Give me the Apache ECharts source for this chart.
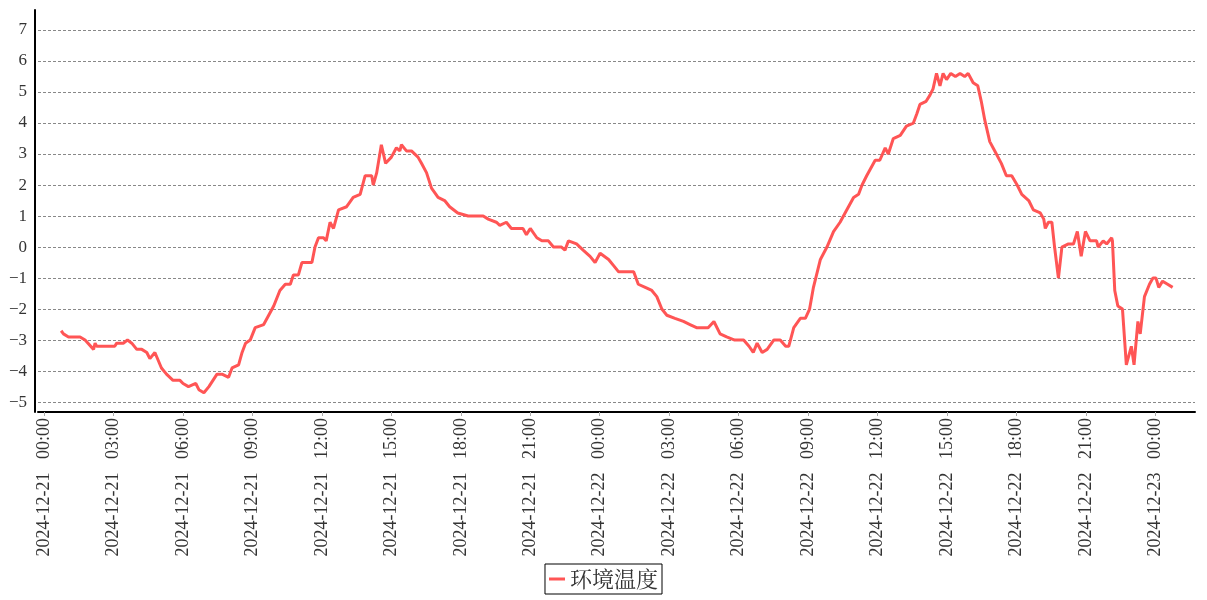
<!DOCTYPE html>
<html><head><meta charset="utf-8">
<script src="https://cdn.jsdelivr.net/npm/echarts@6/dist/echarts.min.js"></script>
<style>html,body{margin:0;padding:0;background:#fff}#c{width:1207px;height:600px}</style>
</head><body><div id="c"></div>
<script>
const seriesName = '环境温度';
const times = [
'2024-12-21 00:44','2024-12-21 00:50','2024-12-21 01:03','2024-12-21 01:33','2024-12-21 01:46','2024-12-21 02:08','2024-12-21 02:12','2024-12-21 02:16',
'2024-12-21 03:03','2024-12-21 03:08','2024-12-21 03:25','2024-12-21 03:36','2024-12-21 03:47','2024-12-21 04:00','2024-12-21 04:13','2024-12-21 04:26',
'2024-12-21 04:34','2024-12-21 04:47','2024-12-21 04:52','2024-12-21 05:04','2024-12-21 05:17','2024-12-21 05:34','2024-12-21 05:52','2024-12-21 06:00',
'2024-12-21 06:14','2024-12-21 06:33','2024-12-21 06:41','2024-12-21 06:54','2024-12-21 07:07','2024-12-21 07:28','2024-12-21 07:41','2024-12-21 07:58',
'2024-12-21 08:07','2024-12-21 08:24','2024-12-21 08:33','2024-12-21 08:42','2024-12-21 08:54','2024-12-21 09:07','2024-12-21 09:29','2024-12-21 09:55',
'2024-12-21 10:11','2024-12-21 10:25','2024-12-21 10:38','2024-12-21 10:46','2024-12-21 10:59','2024-12-21 11:08','2024-12-21 11:34','2024-12-21 11:42',
'2024-12-21 11:51','2024-12-21 12:04','2024-12-21 12:11','2024-12-21 12:21','2024-12-21 12:30','2024-12-21 12:43','2024-12-21 13:04','2024-12-21 13:21',
'2024-12-21 13:39','2024-12-21 13:52','2024-12-21 14:09','2024-12-21 14:13','2024-12-21 14:22','2024-12-21 14:34','2024-12-21 14:45','2024-12-21 15:00',
'2024-12-21 15:13','2024-12-21 15:22','2024-12-21 15:26','2024-12-21 15:39','2024-12-21 15:52','2024-12-21 16:09','2024-12-21 16:18','2024-12-21 16:31',
'2024-12-21 16:44','2024-12-21 17:01','2024-12-21 17:18','2024-12-21 17:31','2024-12-21 17:52','2024-12-21 18:19','2024-12-21 18:58','2024-12-21 19:11',
'2024-12-21 19:32','2024-12-21 19:41','2024-12-21 19:58','2024-12-21 20:11','2024-12-21 20:41','2024-12-21 20:50','2024-12-21 21:00','2024-12-21 21:17',
'2024-12-21 21:30','2024-12-21 21:47','2024-12-21 22:00','2024-12-21 22:21','2024-12-21 22:30','2024-12-21 22:39','2024-12-21 23:00','2024-12-21 23:17',
'2024-12-21 23:35','2024-12-21 23:48',
'2024-12-22 00:01','2024-12-22 00:23','2024-12-22 00:36','2024-12-22 00:49','2024-12-22 01:15','2024-12-22 01:28','2024-12-22 01:40','2024-12-22 01:58',
'2024-12-22 02:15','2024-12-22 02:28','2024-12-22 02:41','2024-12-22 02:54','2024-12-22 03:15','2024-12-22 03:37','2024-12-22 03:54','2024-12-22 04:11',
'2024-12-22 04:41','2024-12-22 04:56','2024-12-22 05:12','2024-12-22 05:29','2024-12-22 05:50','2024-12-22 06:13','2024-12-22 06:27','2024-12-22 06:38',
'2024-12-22 06:48','2024-12-22 07:01','2024-12-22 07:14','2024-12-22 07:31','2024-12-22 07:48','2024-12-22 08:02','2024-12-22 08:10','2024-12-22 08:23',
'2024-12-22 08:40','2024-12-22 08:53','2024-12-22 09:04','2024-12-22 09:14','2024-12-22 09:32','2024-12-22 09:49','2024-12-22 10:06','2024-12-22 10:23',
'2024-12-22 10:36','2024-12-22 10:58','2024-12-22 11:11','2024-12-22 11:20','2024-12-22 11:32','2024-12-22 11:54','2024-12-22 12:06','2024-12-22 12:20',
'2024-12-22 12:28','2024-12-22 12:41','2024-12-22 12:59','2024-12-22 13:15','2024-12-22 13:33','2024-12-22 13:42','2024-12-22 13:50','2024-12-22 14:06',
'2024-12-22 14:16','2024-12-22 14:24','2024-12-22 14:33','2024-12-22 14:42','2024-12-22 14:50','2024-12-22 14:59','2024-12-22 15:10','2024-12-22 15:22',
'2024-12-22 15:34','2024-12-22 15:46','2024-12-22 15:55','2024-12-22 16:08','2024-12-22 16:20','2024-12-22 16:29','2024-12-22 16:38','2024-12-22 16:51',
'2024-12-22 17:04','2024-12-22 17:21','2024-12-22 17:34','2024-12-22 17:48','2024-12-22 18:02','2024-12-22 18:14','2024-12-22 18:32','2024-12-22 18:44',
'2024-12-22 19:02','2024-12-22 19:11','2024-12-22 19:15','2024-12-22 19:23','2024-12-22 19:32','2024-12-22 19:39','2024-12-22 19:49','2024-12-22 19:58',
'2024-12-22 20:15','2024-12-22 20:28','2024-12-22 20:38','2024-12-22 20:48','2024-12-22 20:59','2024-12-22 21:11','2024-12-22 21:28','2024-12-22 21:32',
'2024-12-22 21:45','2024-12-22 21:54','2024-12-22 22:07','2024-12-22 22:09','2024-12-22 22:15','2024-12-22 22:23','2024-12-22 22:35','2024-12-22 22:45',
'2024-12-22 22:58','2024-12-22 23:05','2024-12-22 23:15','2024-12-22 23:21','2024-12-22 23:32','2024-12-22 23:45','2024-12-22 23:54',
'2024-12-23 00:02','2024-12-23 00:09','2024-12-23 00:19','2024-12-23 00:32','2024-12-23 00:45'
];
const temps = [
-2.7,-2.8,-2.9,-2.9,-3.0,-3.3,-3.1,-3.2,
-3.2,-3.1,-3.1,-3.0,-3.1,-3.3,-3.3,-3.4,
-3.6,-3.4,-3.4,-3.9,-4.1,-4.3,-4.3,-4.4,
-4.5,-4.4,-4.6,-4.7,-4.5,-4.1,-4.1,-4.2,
-3.9,-3.8,-3.4,-3.1,-3.0,-2.6,-2.5,-1.9,
-1.4,-1.2,-1.2,-0.9,-0.9,-0.5,-0.5,0.0,
0.3,0.3,0.2,0.8,0.6,1.2,1.3,1.6,
1.7,2.3,2.3,2.0,2.4,3.3,2.7,2.9,
3.2,3.1,3.3,3.1,3.1,2.9,2.7,2.4,
1.9,1.6,1.5,1.3,1.1,1.0,1.0,0.9,
0.8,0.7,0.8,0.6,0.6,0.4,0.6,0.3,
0.2,0.2,0.0,0.0,-0.1,0.2,0.1,-0.1,
-0.3,-0.5,
-0.2,-0.4,-0.6,-0.8,-0.8,-0.8,-1.2,-1.3,
-1.4,-1.6,-2.0,-2.2,-2.3,-2.4,-2.5,-2.6,
-2.6,-2.4,-2.8,-2.9,-3.0,-3.0,-3.2,-3.4,
-3.1,-3.4,-3.3,-3.0,-3.0,-3.2,-3.2,-2.6,
-2.3,-2.3,-2.0,-1.3,-0.4,0.0,0.5,0.8,
1.1,1.6,1.7,2.0,2.3,2.8,2.8,3.2,
3.0,3.5,3.6,3.9,4.0,4.3,4.6,4.7,
4.9,5.1,5.6,5.2,5.6,5.4,5.6,5.5,
5.6,5.5,5.6,5.3,5.2,4.7,4.1,3.4,
3.1,2.7,2.3,2.3,2.0,1.7,1.5,1.2,
1.1,0.9,0.6,0.8,0.8,0.0,-1.0,0.0,
0.1,0.1,0.5,-0.3,0.5,0.2,0.2,0.0,
0.2,0.1,0.3,0.2,-1.4,-1.9,-2.0,-3.8,
-3.2,-3.8,-2.4,-2.8,-1.6,-1.2,-1.0,
-1.0,-1.3,-1.1,-1.2,-1.3
];
const xTickTimes = [
'2024-12-21 00:00','2024-12-21 03:00','2024-12-21 06:00','2024-12-21 09:00','2024-12-21 12:00','2024-12-21 15:00',
'2024-12-21 18:00','2024-12-21 21:00','2024-12-22 00:00','2024-12-22 03:00','2024-12-22 06:00','2024-12-22 09:00',
'2024-12-22 12:00','2024-12-22 15:00','2024-12-22 18:00','2024-12-22 21:00','2024-12-23 00:00'
];
const yTicks = [-5,-4,-3,-2,-1,0,1,2,3,4,5,6,7];
const xMinTime = '2024-12-20 23:44';
const xMaxTime = '2024-12-23 01:43';

function parseT(s){ return new Date(s.replace(' ','T')+':00').getTime(); }
function pad(n){ return (n<10?'0':'')+n; }
function fmt(v){ const d=new Date(v); return d.getFullYear()+'-'+pad(d.getMonth()+1)+'-'+pad(d.getDate())+'   '+pad(d.getHours())+':'+pad(d.getMinutes()); }

const data = times.map((t,i)=>[parseT(t), temps[i]]);
const xTicks = xTickTimes.map(parseT);
const FONT = 'Liberation Serif';

const chart = echarts.init(document.getElementById('c'), null, {renderer:'canvas'});
chart.setOption({
  animation:false,
  backgroundColor:'#fff',
  grid:{left:38,right:12,top:10,bottom:188,containLabel:false},
  legend:{
    data:[seriesName], top:564, left:'center',
    icon:'rect', itemWidth:16, itemHeight:3,
    borderColor:'#000', borderWidth:1, padding:[4,4],
    textStyle:{fontSize:22,color:'#333',fontFamily:'Noto Serif CJK SC, Noto Sans CJK SC'}
  },
  xAxis:{
    type:'value', min:parseT(xMinTime), max:parseT(xMaxTime), scale:true,
    axisLine:{show:true,onZero:false,lineStyle:{color:'#000',width:2}},
    axisTick:{show:true,customValues:xTicks,length:4,lineStyle:{color:'#aaa'}},
    axisLabel:{customValues:xTicks,rotate:90,margin:6,fontFamily:FONT,fontSize:18,color:'#333',formatter:(v)=>fmt(v)},
    splitLine:{show:false}
  },
  yAxis:{
    type:'value', min:-5.32, max:7.645, minInterval:1, maxInterval:1, offset:3,
    axisLine:{show:true,onZero:false,lineStyle:{color:'#000',width:2}},
    axisTick:{show:false},
    axisLabel:{customValues:yTicks,margin:8,fontFamily:FONT,fontSize:17,color:'#333',formatter:(v)=>String(v).replace('-','\u2212')},
    splitLine:{show:true,showMinLine:false,showMaxLine:false,lineStyle:{color:'#888',width:1,type:[3,2]}}
  },
  series:[{
    name:seriesName, type:'line', data:data, showSymbol:false, symbol:'none',
    lineStyle:{color:'#ff5555',width:3}, itemStyle:{color:'#ff5555'}
  }]
});
</script></body></html>
